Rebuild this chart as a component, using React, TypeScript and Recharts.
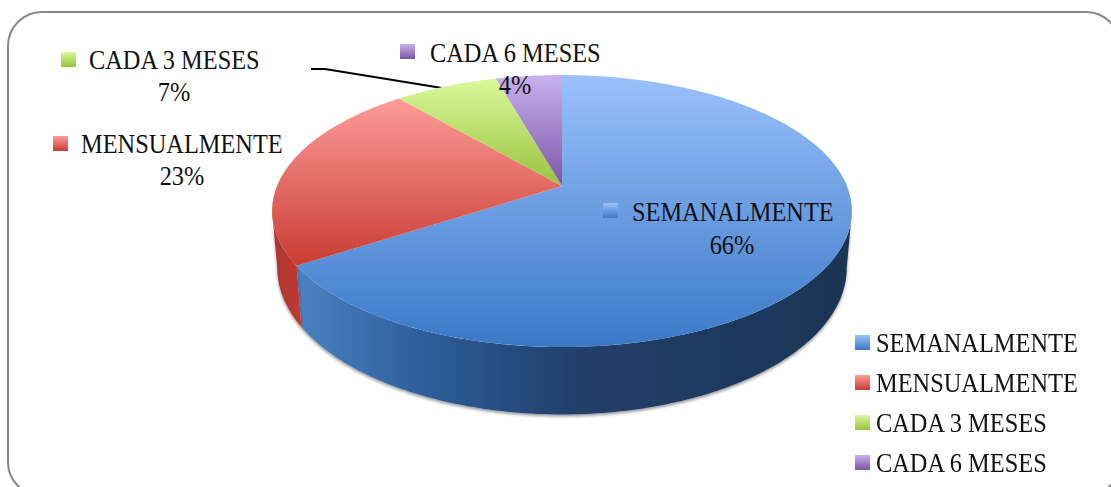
import { PieChart, Pie, Legend } from 'recharts';

const categories = ['SEMANALMENTE', 'MENSUALMENTE', 'CADA 3 MESES', 'CADA 6 MESES'];
// the picture prints them rounded
const shares = [65.8, 22.9, 6.9, 4.4];

const lightColors = ['#9bc1fb', '#fd9c99', '#daf99c', '#c9b1ee'];
const darkColors = ['#3a79c8', '#c93c34', '#99c23c', '#7a55a8'];

const data = categories.map((name, i) => ({ name, value: shares[i] }));

const FONT = '"Liberation Serif", serif';
const FONT_SIZE = 26.5;
const SQUEEZE = 0.92;

// perspective of the tilted pie
const TILT = 0.461;
const PERSP = 0.184;
const DEPTH = 55;
const RAD = Math.PI / 180;

const project = (cx: number, cy: number, r: number, clock: number) => {
  const u = Math.sin(clock * RAD);
  const w = -Math.cos(clock * RAD);
  const s = 1 / (1 - PERSP * w);
  return { x: cx + r * u * s, y: cy + r * TILT * w * s, s };
};

const pt = (p: { x: number; y: number }) => `${p.x.toFixed(1)},${p.y.toFixed(1)}`;

const rim = (cx: number, cy: number, r: number, from: number, to: number) => {
  const out = [];
  const steps = Math.max(2, Math.ceil(Math.abs(to - from)));
  for (let i = 0; i <= steps; i++) {
    out.push(project(cx, cy, r, from + ((to - from) * i) / steps));
  }
  return out;
};

const Slice3D = (props: any) => {
  const { cx, cy, outerRadius, startAngle, endAngle, index } = props;
  const from = 90 - startAngle;
  const to = 90 - endAngle;
  const top = rim(cx, cy, outerRadius, from, to);
  const face = `M${cx},${cy} L${top.map(pt).join(' L')} Z`;

  // only the front of the rim has a visible wall
  const wallFrom = Math.max(from, 100.6);
  const wallTo = Math.min(to, 259.4);
  let wall = null;
  if (wallTo > wallFrom) {
    const upper = rim(cx, cy, outerRadius, wallFrom, wallTo);
    const lower = upper
      .map((p) => ({ x: cx + (p.x - cx) * 0.982, y: p.y + DEPTH * p.s }))
      .reverse();
    wall = (
      <path
        d={`M${upper.map(pt).join(' L')} L${lower.map(pt).join(' L')} Z`}
        fill={`url(#wall${index})`}
        filter="url(#wallShadow)"
      />
    );
  }
  return (
    <g>
      {wall}
      <path d={face} fill={`url(#face${index})`} />
    </g>
  );
};

const labelSpots = [
  { icon: [603, 203], nameX: 632, nameY: 221, valueX: 732, valueY: 254 },
  { icon: [53, 136], nameX: 81, nameY: 153, valueX: 182, valueY: 185 },
  { icon: [61, 52], nameX: 89, nameY: 69, valueX: 174, valueY: 101 },
  { icon: [400, 44], nameX: 430, nameY: 62, valueX: 515, valueY: 94 },
];

const SliceLabel = (props: any) => {
  const { index, name, value } = props;
  const spot = labelSpots[index];
  return (
    <g fontFamily={FONT} fontSize={FONT_SIZE} fill="#111">
      <rect x={spot.icon[0]} y={spot.icon[1]} width={15} height={15} fill={`url(#face${index})`} />
      <text transform={`translate(${spot.nameX},${spot.nameY}) scale(${SQUEEZE},1)`}>{name}</text>
      <text
        textAnchor="middle"
        transform={`translate(${spot.valueX},${spot.valueY}) scale(${SQUEEZE},1)`}
      >
        {Math.round(value)}%
      </text>
    </g>
  );
};

const LegendList = ({ payload }: any) => (
  <div style={{ fontFamily: FONT, fontSize: FONT_SIZE, color: '#111' }}>
    {(payload || []).map((entry: any, i: number) => (
      <div key={entry.value} style={{ position: 'relative', height: 40, lineHeight: '40px', whiteSpace: 'nowrap' }}>
        <span
          style={{
            position: 'absolute',
            left: 0,
            top: 12,
            width: 15,
            height: 15,
            background: `linear-gradient(${lightColors[i]}, ${darkColors[i]})`,
          }}
        />
        <span
          style={{
            position: 'absolute',
            left: 21,
            top: 0,
            transform: `scaleX(${SQUEEZE})`,
            transformOrigin: 'left center',
          }}
        >
          {entry.value}
        </span>
      </div>
    ))}
  </div>
);

export default function App() {
  return (
    <div style={{ position: 'absolute', left: 0, top: 0, width: 1111, height: 487, overflow: 'hidden', background: '#fff' }}>
      <PieChart width={1111} height={487} margin={{ top: 0, right: 0, bottom: 0, left: 0 }}>
        <defs>
          {categories.map((c, i) => (
            <linearGradient key={c} id={`face${i}`} x1="0" y1="0" x2="0" y2="1">
              <stop offset="0%" stopColor={lightColors[i]} />
              <stop offset="100%" stopColor={darkColors[i]} />
            </linearGradient>
          ))}
          <linearGradient id="wall0" x1="0" y1="0" x2="1" y2="0">
            <stop offset="0%" stopColor="#4a82c2" />
            <stop offset="22%" stopColor="#2f5f9c" />
            <stop offset="50%" stopColor="#213f6b" />
            <stop offset="100%" stopColor="#1d3554" />
          </linearGradient>
          <linearGradient id="wall1" x1="0" y1="0" x2="1" y2="0">
            <stop offset="0%" stopColor="#a93530" />
            <stop offset="100%" stopColor="#c23a34" />
          </linearGradient>
          <filter id="wallShadow" x="-5%" y="-5%" width="110%" height="115%">
            <feDropShadow dx="0" dy="2" stdDeviation="1.5" floodColor="#000" floodOpacity="0.4" />
          </filter>
        </defs>
        <rect x={8} y={12} width={1112} height={484} rx={34} ry={34} fill="none" stroke="#868686" strokeWidth={2} />
        <Pie
          data={data}
          dataKey="value"
          nameKey="name"
          cx={562}
          cy={186}
          outerRadius={285}
          startAngle={90}
          endAngle={-270}
          stroke="none"
          shape={Slice3D}
          label={SliceLabel}
          labelLine={false}
          isAnimationActive={false}
        />
        <polyline points="311,69 325,69 442,88" fill="none" stroke="#000" strokeWidth={2} />
        <Legend
          content={LegendList}
          itemSorter={null}
          wrapperStyle={{ position: 'absolute', left: 855, top: 323, width: 250, bottom: 'auto' }}
        />
      </PieChart>
    </div>
  );
}
